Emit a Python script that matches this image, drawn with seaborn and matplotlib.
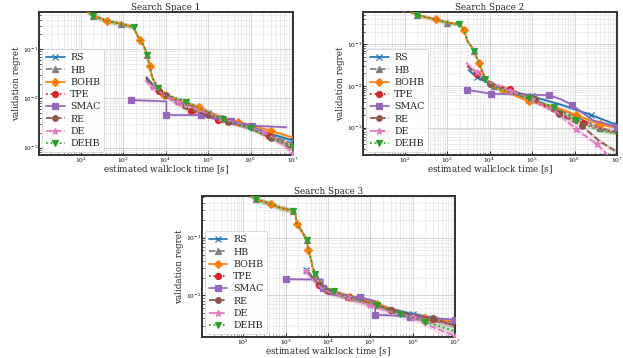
import matplotlib
matplotlib.use("Agg")
import matplotlib.pyplot as plt
import seaborn as sns
import numpy as np

# ---------------- data ----------------
METHODS = ["RS", "HB", "BOHB", "TPE", "SMAC", "RE", "DE", "DEHB"]
TITLES = ["Search Space 1", "Search Space 2", "Search Space 3"]
X_TICKS = [1e2, 1e3, 1e4, 1e5, 1e6, 1e7]
Y_TICKS = [[1e-3, 1e-2, 1e-1], [1e-3, 1e-2, 1e-1], [1e-2, 1e-1]]

# Search Space 1
ss1_early_t = [90, 200, 430, 900, 1800, 2000, 2450, 2800, 3300, 3700, 4200, 4800, 5500, 6500, 9000]
ss1_early_y = [0.75, 0.48, 0.37, 0.33, 0.28, 0.22, 0.155, 0.135, 0.10, 0.077, 0.045, 0.028, 0.021, 0.016, 0.0118]
ss1_late_t = [1.6e4, 3e4, 6e4, 1.2e5, 2.2e5, 5e5, 1e6, 3e6, 1e7]
ss1_hb_late_y = [0.0098, 0.0080, 0.0066, 0.0050, 0.0041, 0.0032, 0.0026, 0.0018, 0.0012]
ss1_bohb_late_y = [0.0100, 0.0082, 0.0066, 0.0050, 0.0040, 0.0033, 0.0029, 0.0022, 0.0016]
ss1_dehb_late_y = [0.0104, 0.0085, 0.0065, 0.0048, 0.0038, 0.0030, 0.0025, 0.0016, 0.00105]
ss1_rs_t = [3500, 5000, 7000, 1e4, 2e4, 5e4, 1e5, 3e5, 1e6, 3e6, 1e7]
ss1_rs_y = [0.027, 0.019, 0.0145, 0.0118, 0.009, 0.0066, 0.005, 0.0036, 0.0027, 0.0019, 0.0014]
ss1_tpe_t = [3500, 5000, 7000, 1.2e4, 2e4, 4e4, 1e5, 1.7e5, 5e5, 1e6, 2.7e6, 1e7]
ss1_tpe_y = [0.026, 0.018, 0.014, 0.011, 0.0085, 0.0056, 0.0045, 0.0036, 0.003, 0.0025, 0.0017, 0.0011]
ss1_re_t = [3500, 5000, 1e4, 2.8e4, 1e5, 3e5, 1e6, 3e6, 1e7]
ss1_re_y = [0.025, 0.018, 0.0115, 0.0063, 0.0046, 0.0034, 0.0026, 0.0016, 0.00093]
ss1_de_t = [3300, 5000, 1e4, 2e4, 6e4, 2e5, 6e5, 2e6, 5e6, 1e7]
ss1_de_y = [0.023, 0.017, 0.0112, 0.0085, 0.0058, 0.004, 0.003, 0.0021, 0.0013, 0.00078]
ss1_smac_t = [1500, 6000, 1.05e4, 1.05e4, 1.5e4, 7e4, 1.4e5, 3.4e5, 1.1e6, 7e6]
ss1_smac_y = [0.0093, 0.0089, 0.0087, 0.0047, 0.0046, 0.0046, 0.0039, 0.0035, 0.0028, 0.0026]

# Search Space 2
ss2_early_t = [90, 200, 550, 1000, 1900, 2200, 2500, 3000, 3800, 4300, 5600, 7000, 8000, 1.26e4, 2.1e4]
ss2_early_y = [0.75, 0.50, 0.39, 0.33, 0.30, 0.27, 0.22, 0.12, 0.085, 0.068, 0.035, 0.020, 0.015, 0.0098, 0.0078]
ss2_late_t = [8.3e4, 3.3e5, 1.1e6, 4e6, 1e7]
ss2_hb_late_y = [0.0047, 0.0030, 0.0018, 0.0010, 0.00075]
ss2_bohb_late_y = [0.0043, 0.0032, 0.0020, 0.0012, 0.00098]
ss2_dehb_late_y = [0.0050, 0.0031, 0.0015, 0.00083, 0.00072]
ss2_rs_t = [3200, 5000, 1e4, 3e4, 1e5, 5e5, 2.5e6, 1e7]
ss2_rs_y = [0.024, 0.016, 0.0115, 0.0075, 0.0056, 0.0035, 0.002, 0.00115]
ss2_tpe_t = [3000, 5000, 1e4, 3.1e4, 1.15e5, 4.2e5, 1.6e6, 6.2e6, 1e7]
ss2_tpe_y = [0.030, 0.019, 0.0115, 0.0083, 0.0042, 0.0022, 0.0013, 0.00083, 0.0008]
ss2_re_t = [3000, 5000, 1e4, 3e4, 1.2e5, 4.3e5, 1.5e6, 3.8e6, 1e7]
ss2_re_y = [0.030, 0.019, 0.011, 0.0078, 0.0048, 0.0021, 0.0011, 0.00048, 0.00026]
ss2_de_t = [2800, 5000, 1e4, 3e4, 1e5, 3.7e5, 1.1e6, 3.4e6, 6e6]
ss2_de_y = [0.036, 0.021, 0.012, 0.0077, 0.0048, 0.0024, 0.0009, 0.0004, 0.00022]
ss2_smac_t = [3000, 1.1e4, 2.5e5, 5e5, 8.7e5, 2.7e6, 1e7]
ss2_smac_y = [0.008, 0.0065, 0.006, 0.0047, 0.0035, 0.0015, 0.00105]

# Search Space 3
ss3_early_t = [90, 200, 460, 720, 1500, 1700, 1850, 2300, 3100, 3400, 4000, 4200, 5000, 8300]
ss3_early_y = [0.70, 0.46, 0.38, 0.33, 0.29, 0.25, 0.17, 0.135, 0.092, 0.062, 0.041, 0.032, 0.023, 0.013]
ss3_late_t = [1.4e4, 3.3e4, 1e5, 1.4e5, 5e5, 2e6, 1e7]
ss3_hb_late_y = [0.0115, 0.0092, 0.0076, 0.0068, 0.0050, 0.0038, 0.0031]
ss3_bohb_late_y = [0.0115, 0.0093, 0.0077, 0.0070, 0.0050, 0.0040, 0.0036]
ss3_dehb_late_y = [0.0118, 0.0090, 0.0075, 0.0069, 0.0048, 0.0035, 0.0024]
ss3_mid_t = [3000, 6000, 1e4, 3e4, 1e5, 3e5, 1e6, 3e6, 1e7]
ss3_rs_y = [0.028, 0.015, 0.012, 0.0095, 0.0075, 0.0058, 0.0047, 0.0041, 0.0035]
ss3_tpe_y = [0.027, 0.015, 0.012, 0.0094, 0.0074, 0.0056, 0.0045, 0.0039, 0.0030]
ss3_re_y = [0.028, 0.015, 0.0118, 0.0093, 0.0073, 0.0055, 0.0046, 0.0040, 0.0030]
ss3_de_y = [0.026, 0.0145, 0.0115, 0.0092, 0.0068, 0.0052, 0.0042, 0.0028, 0.0020]
ss3_smac_t = [1000, 7500, 7500, 1.15e4, 3e4, 5.8e4, 1.3e5, 1.3e5, 3e5, 8.5e5, 3e6, 1e7]
ss3_smac_y = [0.019, 0.0188, 0.0135, 0.0105, 0.0097, 0.0092, 0.0080, 0.0046, 0.0045, 0.0043, 0.0040, 0.0038]

# multiplicative half-width of the shaded bands
BAND = {"RS": 1.10, "HB": 1.13, "BOHB": 1.10, "TPE": 1.10, "SMAC": 1.06,
        "RE": 1.13, "DE": 1.16, "DEHB": 1.10}

YLIMS = [(7.1e-4, 0.57), (2.2e-4, 0.59), (1.9e-3, 0.525)]
XLIM = (10.5, 1e7)

DATA = [
    {"RS": (ss1_rs_t, ss1_rs_y),
     "HB": (ss1_early_t + ss1_late_t, ss1_early_y + ss1_hb_late_y),
     "BOHB": (ss1_early_t + ss1_late_t, ss1_early_y + ss1_bohb_late_y),
     "TPE": (ss1_tpe_t, ss1_tpe_y),
     "SMAC": (ss1_smac_t, ss1_smac_y),
     "RE": (ss1_re_t, ss1_re_y),
     "DE": (ss1_de_t, ss1_de_y),
     "DEHB": (ss1_early_t + ss1_late_t, ss1_early_y + ss1_dehb_late_y)},
    {"RS": (ss2_rs_t, ss2_rs_y),
     "HB": (ss2_early_t + ss2_late_t, ss2_early_y + ss2_hb_late_y),
     "BOHB": (ss2_early_t + ss2_late_t, ss2_early_y + ss2_bohb_late_y),
     "TPE": (ss2_tpe_t, ss2_tpe_y),
     "SMAC": (ss2_smac_t, ss2_smac_y),
     "RE": (ss2_re_t, ss2_re_y),
     "DE": (ss2_de_t, ss2_de_y),
     "DEHB": (ss2_early_t + ss2_late_t, ss2_early_y + ss2_dehb_late_y)},
    {"RS": (ss3_mid_t, ss3_rs_y),
     "HB": (ss3_early_t + ss3_late_t, ss3_early_y + ss3_hb_late_y),
     "BOHB": (ss3_early_t + ss3_late_t, ss3_early_y + ss3_bohb_late_y),
     "TPE": (ss3_mid_t, ss3_tpe_y),
     "SMAC": (ss3_smac_t, ss3_smac_y),
     "RE": (ss3_mid_t, ss3_re_y),
     "DE": (ss3_mid_t, ss3_de_y),
     "DEHB": (ss3_early_t + ss3_late_t, ss3_early_y + ss3_dehb_late_y)},
]

# ---------------- style ----------------
pal = sns.color_palette("tab10")
STYLE = {
    "RS":   dict(color=pal[0], linestyle="-",  marker="x", ms=4.2, mev=(0.02, 0.13)),
    "HB":   dict(color=pal[7], linestyle="--", marker="^", ms=4.0, mev=(0.05, 0.13)),
    "BOHB": dict(color=pal[1], linestyle="-",  marker="D", ms=4.0, mev=(0.0, 0.12)),
    "TPE":  dict(color=pal[3], linestyle=":",  marker="o", ms=4.3, mev=(0.06, 0.13)),
    "SMAC": dict(color=pal[4], linestyle="-",  marker="s", ms=4.3, mev=(0.04, 0.12)),
    "RE":   dict(color=pal[5], linestyle="--", marker="o", ms=4.0, mev=(0.09, 0.13)),
    "DE":   dict(color=pal[6], linestyle="--", marker="*", ms=5.0, mev=(0.03, 0.13)),
    "DEHB": dict(color=pal[2], linestyle=":",  marker="v", ms=4.8, mev=(0.07, 0.12)),
}

sns.set_theme(style="whitegrid")
plt.rcParams["font.family"] = ["DejaVu Serif"]
plt.rcParams["mathtext.fontset"] = "dejavuserif"

fig = plt.figure(figsize=(6.23, 3.58), dpi=100)
positions = [
    [39 / 623, 1 - 155 / 358, 254 / 623, 143 / 358],
    [363 / 623, 1 - 155 / 358, 254 / 623, 143 / 358],
    [202 / 623, 1 - 337 / 358, 253 / 623, 141 / 358],
]

for i, pos in enumerate(positions):
    ax = fig.add_axes(pos)
    ax.set_facecolor("white")
    for m in METHODS:
        t, y = DATA[i][m]
        st = STYLE[m]
        t = np.asarray(t, dtype=float)
        y = np.asarray(y, dtype=float)
        ax.fill_between(t, y / BAND[m], y * BAND[m], color=st["color"], alpha=0.2, lw=0, zorder=1)
        sns.lineplot(x=t, y=y, ax=ax, sort=False, estimator=None, color=st["color"],
                     linestyle=st["linestyle"], marker=st["marker"], markersize=st["ms"],
                     markevery=st["mev"], linewidth=1.25, markeredgewidth=0.9,
                     markeredgecolor=st["color"], label=m, legend=False, zorder=3)
    ax.set_xscale("log")
    ax.set_yscale("log")
    ax.set_xticks(X_TICKS)
    ax.set_yticks(Y_TICKS[i])
    ax.set_xlim(*XLIM)
    ax.set_ylim(*YLIMS[i])
    ax.set_title(TITLES[i], fontsize=6.3, pad=1.5)
    ax.set_xlabel("estimated wallclock time [$s$]", fontsize=6.3)
    ax.xaxis.set_label_coords(0.5, -0.063)
    ax.set_ylabel("validation regret", fontsize=6.3, labelpad=1)
    ax.grid(True, which="major", color="#cfcfcf", linewidth=0.6)
    ax.grid(True, which="minor", color="#e6e6e6", linewidth=0.5)
    ax.xaxis.set_minor_locator(matplotlib.ticker.LogLocator(base=10, subs=np.arange(2, 10), numticks=12))
    ax.yaxis.set_minor_locator(matplotlib.ticker.LogLocator(base=10, subs=np.arange(2, 10), numticks=12))
    ax.yaxis.set_minor_formatter(matplotlib.ticker.NullFormatter())
    ax.xaxis.set_minor_formatter(matplotlib.ticker.NullFormatter())
    ax.tick_params(axis="both", which="major", direction="in", length=3, width=0.8,
                   labelsize=4.3, pad=0.6, bottom=True, left=True, colors="#333333", labelcolor="black")
    ax.tick_params(axis="both", which="minor", direction="in", length=1.6, width=0.6,
                   bottom=True, left=True, colors="#333333")
    for sp in ax.spines.values():
        sp.set_color("#333333")
        sp.set_linewidth(1.4)
    handles, labels = ax.get_legend_handles_labels()
    leg = ax.legend(handles, labels, loc="lower left", fontsize=6.8, frameon=True,
                    borderaxespad=0.3, handlelength=2.0, labelspacing=0.35,
                    borderpad=0.4, handletextpad=0.6, framealpha=0.85)
    leg.get_frame().set_edgecolor("#cccccc")
    leg.get_frame().set_linewidth(0.6)

fig.savefig("out.png", dpi=100)
